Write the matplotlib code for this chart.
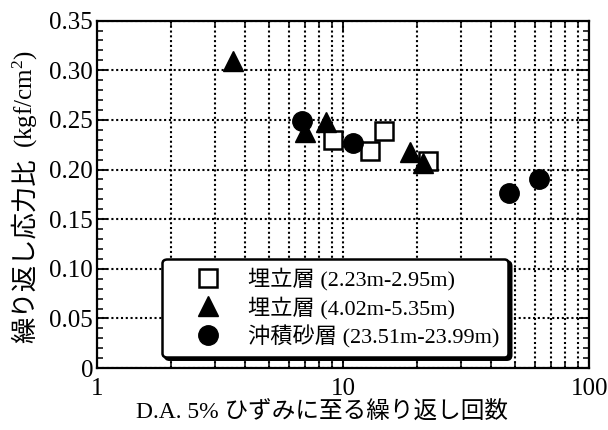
import matplotlib
matplotlib.use("Agg")
import matplotlib.pyplot as plt
from matplotlib.lines import Line2D
from matplotlib.legend_handler import HandlerLine2D
from matplotlib.ticker import FixedLocator, FixedFormatter, MultipleLocator, LogLocator, NullFormatter

plt.rcParams['font.family'] = ['Liberation Serif', 'Noto Sans CJK JP']
plt.rcParams['mathtext.fontset'] = 'custom'
plt.rcParams['mathtext.rm'] = 'Liberation Serif'
plt.rcParams['mathtext.it'] = 'Liberation Serif'

# data
sq_label = "埋立層 (2.23m-2.95m)"
sq_x = [9.1, 12.9, 14.7, 22.1]
sq_y = [0.230, 0.219, 0.239, 0.209]

tri_label = "埋立層 (4.02m-5.35m)"
tri_x = [3.58, 7.0, 8.5, 18.7, 21.1]
tri_y = [0.309, 0.238, 0.248, 0.218, 0.207]

cir_label = "沖積砂層 (23.51m-23.99m)"
cir_x = [6.8, 11.0, 47.0, 62.8]
cir_y = [0.249, 0.227, 0.176, 0.190]

x_ticks = [1, 10, 100]
x_tick_labels = ["1", "10", "100"]
y_ticks = [0, 0.05, 0.10, 0.15, 0.20, 0.25, 0.30, 0.35]
y_tick_labels = ["0", "0.05", "0.10", "0.15", "0.20", "0.25", "0.30", "0.35"]

x_title = "D.A. 5% ひずみに至る繰り返し回数"
y_title_jp = "繰り返し応力比"
y_title_unit = r"(kgf/cm$^{2}$)"

fig = plt.figure(figsize=(6.08, 4.30), dpi=100)
ax = fig.add_axes([0.160, 0.144, 0.809, 0.808])
ax.set_xscale('log')
ax.set_xlim(1, 100)
ax.set_ylim(0, 0.35)

ax.xaxis.set_major_locator(FixedLocator(x_ticks))
ax.xaxis.set_major_formatter(FixedFormatter(x_tick_labels))
ax.xaxis.set_minor_locator(LogLocator(base=10, subs=range(2, 10)))
ax.xaxis.set_minor_formatter(NullFormatter())
ax.yaxis.set_major_locator(FixedLocator(y_ticks))
ax.yaxis.set_major_formatter(FixedFormatter(y_tick_labels))
ax.yaxis.set_minor_locator(MultipleLocator(0.01))

ax.tick_params(which='both', direction='in', top=True, right=True, colors='black')
ax.tick_params(which='major', length=7, width=1.3, labelsize=18)
ax.tick_params(which='minor', length=4, width=1.1)
ax.tick_params(axis='x', which='major', pad=7)
ax.tick_params(axis='y', which='major', pad=3)

ax.grid(True, which='major', axis='y', linestyle=(0, (1, 1.3)), color='black', linewidth=1.5)
ax.grid(True, which='both', axis='x', linestyle=(0, (1, 1.3)), color='black', linewidth=1.5)
for s in ax.spines.values():
    s.set_linewidth(1.6)

ax.plot(sq_x, sq_y, linestyle='none', marker='s', markersize=13, markerfacecolor='white',
        markeredgecolor='black', markeredgewidth=1.8, label=sq_label, zorder=3)
ax.plot(tri_x, tri_y, linestyle='none', marker='^', markersize=14, color='black',
        label=tri_label, zorder=3)
ax.plot(cir_x, cir_y, linestyle='none', marker='o', markersize=14, color='black',
        label=cir_label, zorder=3)

leg = ax.legend(loc='lower left', bbox_to_anchor=(0.132, 0.032), fontsize=16, frameon=True,
                fancybox=True, shadow={'color': 'black', 'alpha': 1}, framealpha=1,
                edgecolor='black', borderpad=0.4, labelspacing=0.26, handletextpad=0.4,
                handlelength=3.07, borderaxespad=0, markerscale=1.0,
                handler_map={Line2D: HandlerLine2D(xpad=0.27)})
leg.get_frame().set_linewidth(1.8)

fig.text(0.530, 0.040, x_title, fontsize=17, ha='center', va='center')
fig.text(0.042, 0.416, y_title_jp, fontsize=19, ha='center', va='center', rotation=90)
fig.text(0.042, 0.655, y_title_unit, fontsize=18, ha='center', va='bottom', rotation=90)

fig.savefig("out.png", dpi=100)
